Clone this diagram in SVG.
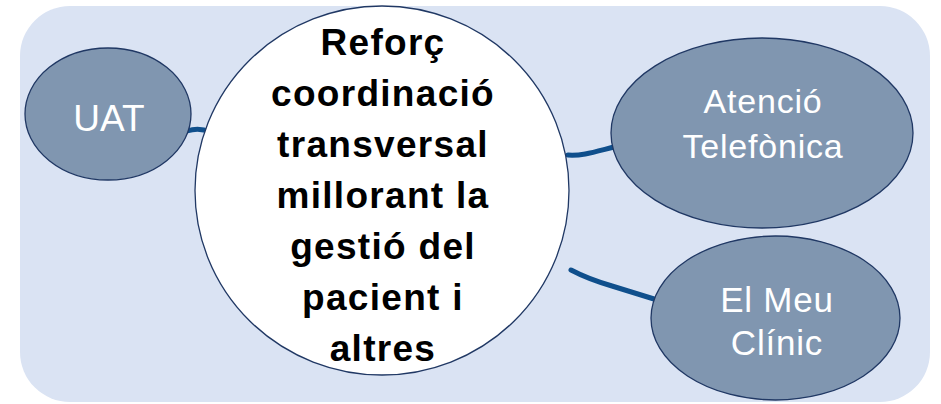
<svg xmlns="http://www.w3.org/2000/svg" width="941" height="404" viewBox="0 0 941 404">
<style>
.bg{fill:#dae3f3;}
.node{fill:#8096b0;stroke:#203864;stroke-width:1.3;}
.main{fill:#ffffff;stroke:#203864;stroke-width:1.3;}
.lbl{font-family:"Liberation Sans",Arial,sans-serif;fill:#ffffff;text-anchor:middle;}
.mtxt{font-family:"Liberation Sans",Arial,sans-serif;font-weight:bold;fill:#000000;text-anchor:middle;font-size:37px;letter-spacing:1.3px;}
.conn{fill:none;stroke:#0f4f8c;stroke-width:5;stroke-linecap:round;}
</style>
<rect class="bg" x="20" y="6" width="910" height="396" rx="50" ry="50"/>
<g id="connectors">
<path class="conn" d="M187,131 Q199,127 210,132"/>
<path class="conn" d="M568,155 C582,156 594,152 614,147"/>
<path class="conn" d="M571,270 Q588,279 612,286 L654,299"/>
</g>
<g id="node-uat">
<ellipse class="node" cx="108" cy="114" rx="83" ry="66"/>
<text class="lbl" x="109" y="131" font-size="37">UAT</text>
</g>
<g id="node-center">
<ellipse class="main" cx="382" cy="190.5" rx="187" ry="184.5"/>
<text class="mtxt" x="383" y="55">Reforç</text>
<text class="mtxt" x="383" y="106">coordinació</text>
<text class="mtxt" x="383" y="157">transversal</text>
<text class="mtxt" x="383" y="208">millorant la</text>
<text class="mtxt" x="383" y="259">gestió del</text>
<text class="mtxt" x="383" y="310">pacient i</text>
<text class="mtxt" x="383" y="361">altres</text>
</g>
<g id="node-atencio">
<ellipse class="node" cx="762" cy="133" rx="151" ry="95"/>
<text class="lbl" x="763" y="113" font-size="34" letter-spacing="0.8">Atenció</text>
<text class="lbl" x="763" y="158" font-size="34" letter-spacing="0.8">Telefònica</text>
</g>
<g id="node-elmeu">
<ellipse class="node" cx="775.5" cy="318" rx="124.5" ry="82"/>
<text class="lbl" x="777" y="312" font-size="35" letter-spacing="0.8">El Meu</text>
<text class="lbl" x="777" y="355" font-size="35" letter-spacing="0.8">Clínic</text>
</g>
</svg>
